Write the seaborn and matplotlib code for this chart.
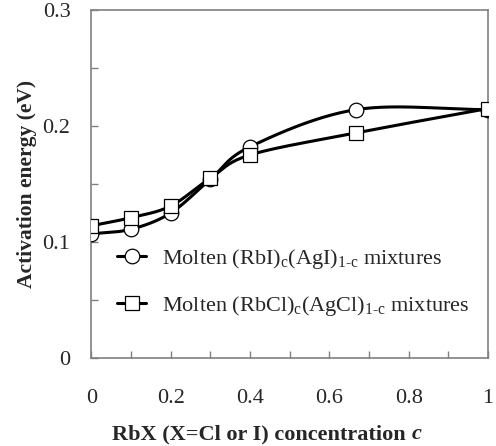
import numpy as np
import matplotlib
matplotlib.use("Agg")
import matplotlib.pyplot as plt
from matplotlib.lines import Line2D
import seaborn as sns

## data
conc = [0, 0.1, 0.2, 0.3, 0.4, 0.667, 1.0]
rbi_agi = [0.107, 0.111, 0.125, 0.154, 0.182, 0.214, 0.214]
rbcl_agcl = [0.114, 0.121, 0.131, 0.155, 0.175, 0.194, 0.215]

xtick_labels = ["0", "0.2", "0.4", "0.6", "0.8", "1"]
ytick_labels = ["0", "0.1", "0.2", "0.3"]
label_i = r"Molten (RbI)$_\mathregular{c}$(AgI)$_\mathregular{1‐c}$ mixtures"
label_cl = r"Molten (RbCl)$_\mathregular{c}$(AgCl)$_\mathregular{1‐c}$ mixtures"


## excel-like smoothed line (catmull-rom between the points)
def smooth(x, y, n=30):
    x = np.asarray(x, float)
    y = np.asarray(y, float)
    px = np.concatenate([[2 * x[0] - x[1]], x, [2 * x[-1] - x[-2]]])
    py = np.concatenate([[2 * y[0] - y[1]], y, [2 * y[-1] - y[-2]]])
    xs, ys = [], []
    for i in range(1, len(px) - 2):
        p0, p1, p2, p3 = px[i - 1], px[i], px[i + 1], px[i + 2]
        q0, q1, q2, q3 = py[i - 1], py[i], py[i + 1], py[i + 2]
        c1x, c1y = p1 + (p2 - p0) / 6, q1 + (q2 - q0) / 6
        c2x, c2y = p2 - (p3 - p1) / 6, q2 - (q3 - q1) / 6
        t = np.linspace(0, 1, n)
        b0, b1, b2, b3 = (1 - t) ** 3, 3 * t * (1 - t) ** 2, 3 * t ** 2 * (1 - t), t ** 3
        xs.extend(b0 * p1 + b1 * c1x + b2 * c2x + b3 * p2)
        ys.extend(b0 * q1 + b1 * c1y + b2 * c2y + b3 * q2)
    return np.array(xs), np.array(ys)


sns.set_style("white")
plt.rcParams["font.family"] = ["Liberation Serif", "DejaVu Serif"]
plt.rcParams["mathtext.fontset"] = "custom"
plt.rcParams["mathtext.rm"] = "Liberation Serif"
plt.rcParams["mathtext.it"] = "Liberation Serif:italic"
plt.rcParams["mathtext.bf"] = "Liberation Serif:bold"

fs = 16
fig, ax = plt.subplots(figsize=(4.96, 4.46), dpi=100)
fig.subplots_adjust(left=0.184, right=0.984, top=0.978, bottom=0.197)

for yy, mk in [(rbi_agi, "o"), (rbcl_agcl, "s")]:
    sx, sy = smooth(conc, yy)
    sns.lineplot(x=sx, y=sy, ax=ax, color="black", lw=2.2, sort=False, estimator=None)
    ax.plot(conc, yy, ls="none", marker=mk, ms=10.5 if mk == "o" else 10,
            mfc="white", mec="black", mew=0.9, zorder=3)

ax.set_xlim(0, 1)
ax.set_ylim(0, 0.3)
ax.set_xticks(np.arange(0, 1.01, 0.2))
ax.set_xticklabels(xtick_labels)
ax.set_xticks(np.arange(0.1, 1.0, 0.2), minor=True)
ax.set_yticks([0, 0.1, 0.2, 0.3])
ax.set_yticklabels(ytick_labels)
ax.set_yticks([0.05, 0.15, 0.25], minor=True)
ax.tick_params(which="both", direction="in", length=5, color="#808080", width=1,
               labelsize=fs, bottom=True, left=True)
ax.tick_params(axis="x", which="major", pad=22)
ax.tick_params(axis="y", which="major", pad=15)
for s in ax.spines.values():
    s.set_color("#808080")
    s.set_linewidth(1.2)

ax.set_ylabel("Activation energy (eV)", fontsize=15.5, fontweight="bold", labelpad=4)

## x label: bold text plus bold italic c
fig.canvas.draw()
W, H = fig.bbox.width, fig.bbox.height
t1 = fig.text(112 / W, 1 - 434 / H, "RbX (X=Cl or I) concentration ", fontsize=fs,
              fontweight="bold", va="center", ha="left")
fig.canvas.draw()
bb = t1.get_window_extent()
fig.text(bb.x1 / W, 1 - 434 / H, "c", fontsize=fs, fontweight="bold",
         fontstyle="italic", va="center", ha="left")

handles = [
    Line2D([], [], color="black", lw=2.2, marker="o", ms=10.5, mfc="white", mec="black", mew=0.9),
    Line2D([], [], color="black", lw=2.2, marker="s", ms=10, mfc="white", mec="black", mew=0.9),
]
ax.legend(handles, [label_i, label_cl], loc="center left", bbox_to_anchor=(0.065, 0.218),
          frameon=False, fontsize=fs, handlelength=1.3, handletextpad=0.7,
          labelspacing=1.05, borderpad=0, borderaxespad=0)

fig.savefig("out.png", dpi=100)
